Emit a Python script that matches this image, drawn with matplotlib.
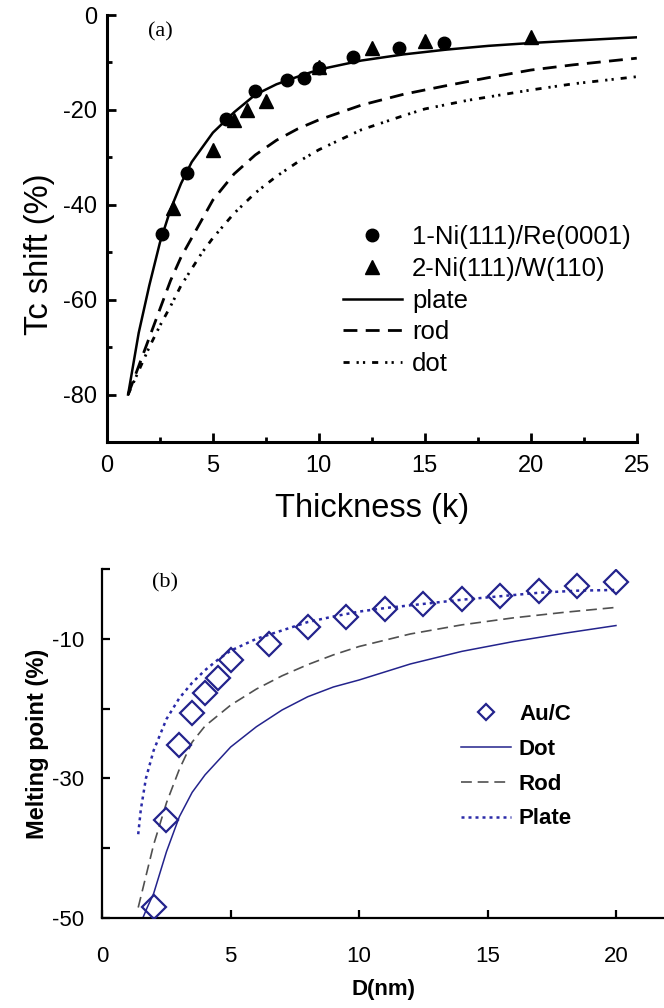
import numpy as np
import matplotlib
matplotlib.use("Agg")
import matplotlib.pyplot as plt

plt.rcParams['font.family'] = ['Liberation Sans', 'DejaVu Sans']
plt.rcParams['axes.unicode_minus'] = False

# ---- panel (a) data: Tc shift vs thickness ----
re_x = [2.6, 3.8, 5.6, 7.0, 8.5, 9.3, 10.0, 11.6, 13.8, 15.9]
re_y = [-46.2, -33.3, -21.9, -16.1, -13.7, -13.3, -11.2, -8.8, -7.0, -5.8]
w_x = [3.1, 5.0, 6.0, 6.6, 7.5, 10.0, 12.5, 15.0, 20.0]
w_y = [-40.7, -28.4, -22.2, -20.0, -18.2, -10.9, -7.0, -5.4, -4.7]

plate_x = [1, 1.5, 2, 2.5, 3, 3.5, 4, 5, 6, 7, 8, 9, 10, 12, 14, 16, 18, 20, 22, 25]
plate_y = [-80, -67, -57, -48, -41, -35.5, -31, -24.8, -20.5, -16.8, -14.6, -13.0, -11.5,
           -9.6, -8.3, -7.3, -6.5, -5.9, -5.4, -4.7]
rod_x = [1, 1.5, 2, 2.5, 3, 3.5, 4, 5, 6, 7, 8, 9, 10, 12, 14, 16, 18, 20, 22, 25]
rod_y = [-80, -74, -68, -62, -56, -51, -47, -39, -33.5, -29.5, -26.4, -24.0, -22.1,
         -19.0, -16.7, -14.9, -13.2, -11.6, -10.5, -9.1]
dot_x = [1, 1.5, 2, 2.5, 3, 3.5, 4, 4.5, 5, 6, 7, 8, 9, 10, 12, 14, 15, 17, 20, 22, 25]
dot_y = [-80, -75, -70, -65.5, -61.4, -57, -53.5, -50, -47, -41.8, -37.5, -34, -31,
         -28.4, -24.2, -21.2, -19.8, -18.0, -15.8, -14.5, -13.0]

# ---- panel (b) data: melting point vs D ----
auc_x = [2.0, 2.5, 3.0, 3.5, 4.0, 4.5, 5.0, 6.5, 8.0, 9.5, 11.0, 12.5, 14.0, 15.5, 17.0, 18.5, 20.0]
auc_y = [-48.4, -35.9, -25.2, -20.6, -17.7, -15.6, -13.1, -10.7, -8.3, -6.9, -5.7, -5.0,
         -4.3, -3.8, -3.2, -2.4, -1.9]

bdot_x = [1.5, 1.75, 2, 2.5, 3, 3.5, 4, 5, 6, 7, 8, 9, 10, 12, 14, 16, 18, 20]
bdot_y = [-50.7, -48.5, -46.5, -40.5, -35.5, -32, -29.5, -25.5, -22.6, -20.2, -18.3,
          -16.9, -15.9, -13.6, -11.8, -10.4, -9.2, -8.1]
brod_x = [1.4, 1.7, 2, 2.5, 3, 3.5, 4, 5, 6, 7, 8, 9, 10, 12, 14, 16, 18, 20]
brod_y = [-48.5, -44, -39.5, -33.5, -28.7, -24.8, -22.5, -19.5, -17.2, -15.3, -13.7,
          -12.3, -11.1, -9.3, -8.0, -7.0, -6.2, -5.5]
bplate_x = [1.4, 1.5, 1.7, 2, 2.5, 3, 3.5, 4, 4.5, 5, 6, 7, 8, 9, 10, 11, 12.5, 14, 15.5, 17, 18.5, 20]
bplate_y = [-38, -34.5, -30, -26, -21.5, -18.5, -16.3, -14.5, -13, -11.7, -10, -8.8, -7.6,
            -6.8, -6.1, -5.6, -5.0, -4.4, -3.9, -3.4, -3.1, -3.0]

navy = '#23238c'

fig = plt.figure(figsize=(6.64, 10.08), dpi=100)

# panel (a)
ax1 = fig.add_axes([0.161, 0.5615, 0.798, 0.4236])
ax1.plot(re_x, re_y, 'o', color='k', ms=9, label='1-Ni(111)/Re(0001)', zorder=3)
ax1.plot(w_x, w_y, '^', color='k', ms=10, label='2-Ni(111)/W(110)', zorder=3)
ax1.plot(plate_x, plate_y, '-', color='k', lw=1.8, label='plate')
ax1.plot(rod_x, rod_y, color='k', lw=2.0, dashes=(5, 3), label='rod')
ax1.plot(dot_x, dot_y, color='k', lw=2.0, dashes=(2.2, 2.5, 0.8, 1.5, 0.8, 2.5), label='dot')
ax1.set_xlim(0, 25)
ax1.set_ylim(-90, 0)
ax1.set_xticks([0, 5, 10, 15, 20, 25])
ax1.set_xticks(np.arange(2.5, 25, 5), minor=True)
ax1.set_yticks([-80, -60, -40, -20, 0])
ax1.set_yticks([-90, -70, -50, -30, -10], minor=True)
for s in ['top', 'right']:
    ax1.spines[s].set_visible(False)
for s in ['left', 'bottom']:
    ax1.spines[s].set_linewidth(2.2)
ax1.tick_params(which='major', direction='in', length=6.5, width=2.0, labelsize=17)
ax1.tick_params(which='minor', direction='in', length=3.5, width=2.0)
ax1.tick_params(axis='y', which='major', pad=7)
ax1.tick_params(axis='x', which='major', pad=9)
ax1.set_xlabel('Thickness (k)', fontsize=23.5, labelpad=12)
ax1.set_ylabel('Tc shift (%)', fontsize=23.5, labelpad=6)
ax1.yaxis.label.set_y(0.44)
ax1.text(0.077, 0.96, '(a)', transform=ax1.transAxes, fontsize=16,
         family='Liberation Serif', va='center', ha='left')
ax1.legend(loc='upper left', bbox_to_anchor=(0.445, 0.508), frameon=False, fontsize=18.5,
           borderpad=0, borderaxespad=0, handlelength=2.3, handletextpad=0.4,
           labelspacing=0.3, numpoints=1)

# panel (b)
ax2 = fig.add_axes([0.154, 0.0893, 0.846, 0.3462])
ax2.plot(auc_x, auc_y, 'D', mfc='none', mec=navy, mew=1.6, ms=12, label='Au/C', zorder=3)
ax2.plot(bdot_x, bdot_y, '-', color=navy, lw=1.1, label='Dot')
ax2.plot(brod_x, brod_y, color='#505050', lw=1.2, dashes=(6.5, 3.5), label='Rod')
ax2.plot(bplate_x, bplate_y, color='#2a2aa8', lw=1.8, dashes=(1.2, 1.6), label='Plate')
ax2.set_xlim(0, 21.87)
ax2.set_ylim(-50, 0)
ax2.set_xticks([0, 5, 10, 15, 20])
ax2.set_yticks([-50, -40, -30, -20, -10, 0])
ax2.set_yticklabels(['-50', '', '-30', '', '-10', ''])
for s in ['top', 'right']:
    ax2.spines[s].set_visible(False)
for s in ['left', 'bottom']:
    ax2.spines[s].set_linewidth(1.6)
ax2.tick_params(direction='in', length=6, width=1.6, labelsize=16)
ax2.tick_params(axis='y', pad=13)
ax2.tick_params(axis='x', pad=20)
ax2.set_xlabel('D(nm)', fontsize=16, fontweight='bold', labelpad=9)
ax2.set_ylabel('Melting point (%)', fontsize=17, fontweight='bold', labelpad=2)
ax2.text(0.089, 0.96, '(b)', transform=ax2.transAxes, fontsize=16,
         family='Liberation Serif', va='center', ha='left')
ax2.legend(loc='upper left', bbox_to_anchor=(0.639, 0.613), frameon=False,
           prop={'size': 16, 'weight': 'bold'}, borderpad=0, borderaxespad=0,
           handlelength=2.25, handletextpad=0.35, labelspacing=0.62, numpoints=1,
           markerscale=0.7)

fig.savefig('out.png', dpi=100)
